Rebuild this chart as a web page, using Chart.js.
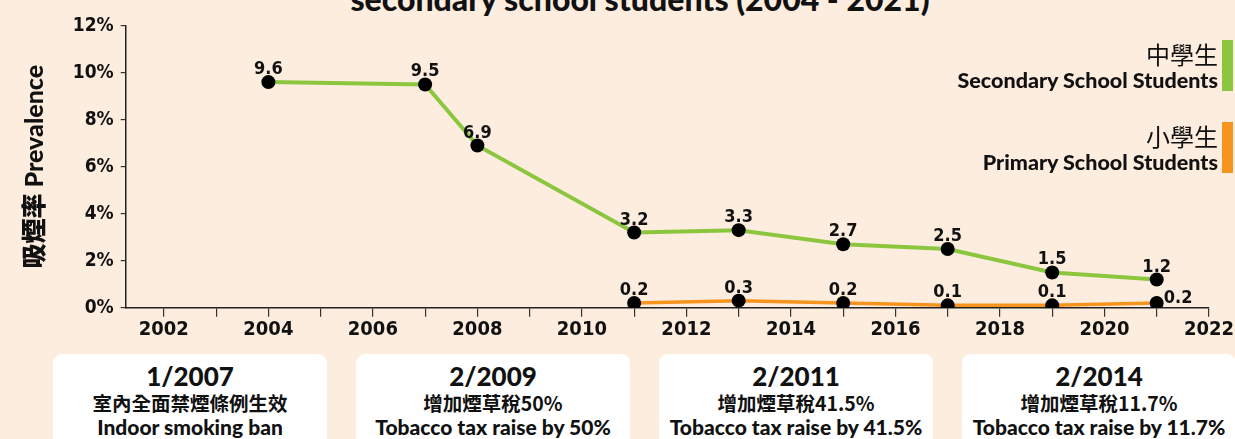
<!DOCTYPE html>
<html>
<head>
<meta charset="utf-8">
<script src="https://cdn.jsdelivr.net/npm/chart.js@4.4.1/dist/chart.umd.min.js"></script>
<style>
  html, body { margin: 0; padding: 0; }
  body { width: 1235px; height: 439px; overflow: hidden; position: relative; background: #fdeddf; font-family: Lato, "Noto Sans CJK TC", sans-serif; color: #111; }
  #wrap { position: absolute; left: 0; top: 0; width: 1235px; height: 340px; }
  #title { position: absolute; left: 0; top: -21px; width: 1280px; text-align: center; font-weight: 900; font-size: 32px; white-space: nowrap; }
  .leg { position: absolute; right: 17px; text-align: right; }
  .leg .zh { font-family: "Noto Sans CJK TC", sans-serif; font-size: 24px; font-weight: 400; line-height: 31px; }
  .leg .en { font-weight: 900; font-size: 21.5px; line-height: 22px; }
  .leg .bar { position: absolute; right: -15px; top: 2px; width: 11px; height: 51px; }
  .box { position: absolute; top: 354px; width: 274px; height: 100px; background: #fff; border-radius: 9px; text-align: center; }
  .box .d { font-weight: 900; font-size: 26px; line-height: 30px; margin-top: 7px; }
  .box .zh { font-family: "Noto Sans CJK TC", sans-serif; font-weight: 700; font-size: 19.5px; line-height: 24px; }
  .box .en { font-weight: 900; font-size: 21px; line-height: 24px; }
</style>
</head>
<body>
<div id="title">secondary school students (2004 - 2021)</div>
<div id="wrap"><canvas id="chart" width="1235" height="340"></canvas></div>
<div id="legend"></div>
<div id="boxes"></div>
<script>
const secYears = [2004, 2007, 2008, 2011, 2013, 2015, 2017, 2019, 2021];
const secValues = [9.6, 9.5, 6.9, 3.2, 3.3, 2.7, 2.5, 1.5, 1.2];
const priYears = [2011, 2013, 2015, 2017, 2019, 2021];
const priValues = [0.2, 0.3, 0.2, 0.1, 0.1, 0.2];
const xTickYears = [2002, 2003, 2004, 2005, 2006, 2007, 2008, 2009, 2010, 2011, 2012,
  2013, 2014, 2015, 2016, 2017, 2018, 2019, 2020, 2021, 2022];
const yTicks = [0, 2, 4, 6, 8, 10, 12];

const seriesZh = ["中學生", "小學生"];
const seriesEn = ["Secondary School Students", "Primary School Students"];
const seriesColors = ["#8cc63f", "#f7941d"];

const eventDates = ["1/2007", "2/2009", "2/2011", "2/2014"];
const eventZh = ["室內全面禁煙條例生效", "增加煙草稅50%", "增加煙草稅41.5%", "增加煙草稅11.7%"];
const eventEn = ["Indoor smoking ban", "Tobacco tax raise by 50%", "Tobacco tax raise by 41.5%", "Tobacco tax raise by 11.7%"];

const narrow = "'Liberation Sans Narrow', 'DejaVu Sans Condensed', Lato, sans-serif";

// legend (right side)
const legTops = [38, 120];
const legend = document.getElementById("legend");
seriesZh.forEach((zh, i) => {
  const d = document.createElement("div");
  d.className = "leg";
  d.style.top = legTops[i] + "px";
  d.innerHTML = `<div class="zh">${zh}</div><div class="en">${seriesEn[i]}</div>` +
    `<div class="bar" style="background:${seriesColors[i]}"></div>`;
  legend.appendChild(d);
});

// event boxes
const boxLefts = [53, 356, 659, 962];
const boxes = document.getElementById("boxes");
eventDates.forEach((dt, i) => {
  const b = document.createElement("div");
  b.className = "box";
  b.style.left = boxLefts[i] + "px";
  b.innerHTML = `<div class="d">${dt}</div><div class="zh">${eventZh[i]}</div><div class="en">${eventEn[i]}</div>`;
  boxes.appendChild(b);
});

const valueLabels = {
  id: "valueLabels",
  afterDatasetsDraw(chart) {
    const ctx = chart.ctx;
    ctx.save();
    ctx.font = "bold 18px " + narrow;
    ctx.fillStyle = "#111";
    chart.data.datasets.forEach((ds, i) => {
      chart.getDatasetMeta(i).data.forEach((pt, j) => {
        const txt = ds.data[j].y.toFixed(1);
        if (i === 1 && j === ds.data.length - 1) {
          ctx.textAlign = "left";
          ctx.fillText(txt, pt.x + 7, pt.y);
        } else {
          ctx.textAlign = "center";
          ctx.fillText(txt, pt.x, pt.y - 8);
        }
      });
    });
    ctx.restore();
  }
};

new Chart(document.getElementById("chart"), {
  type: "line",
  data: {
    datasets: [
      {
        label: seriesEn[0],
        data: secYears.map((x, i) => ({ x: x, y: secValues[i] })),
        borderColor: seriesColors[0],
        borderWidth: 4,
        pointRadius: 7,
        pointBackgroundColor: "#000",
        pointBorderWidth: 0,
        tension: 0
      },
      {
        label: seriesEn[1],
        data: priYears.map((x, i) => ({ x: x, y: priValues[i] })),
        borderColor: seriesColors[1],
        borderWidth: 3.5,
        pointRadius: 7,
        pointBackgroundColor: "#000",
        pointBorderWidth: 0,
        tension: 0
      }
    ]
  },
  options: {
    responsive: false,
    animation: false,
    maintainAspectRatio: false,
    layout: { padding: { left: 0, right: 23, top: 25.7, bottom: 0 } },
    plugins: { legend: { display: false }, tooltip: { enabled: false } },
    scales: {
      x: {
        type: "linear",
        min: 2001.27,
        max: 2022,
        afterBuildTicks: (s) => { s.ticks = xTickYears.map((v) => ({ value: v })); },
        afterFit: (s) => { s.height = 32.3; },
        grid: { drawOnChartArea: false, drawTicks: true, tickLength: 9, color: "#333", lineWidth: 1.2 },
        border: { color: "#222", width: 1.5 },
        ticks: {
          autoSkip: false,
          maxRotation: 0,
          padding: 1,
          color: "#111",
          font: { family: narrow, size: 20, weight: "bold" },
          callback: (v) => (v % 2 === 0 ? String(v) : "")
        }
      },
      y: {
        min: 0,
        max: 12,
        afterBuildTicks: (s) => { s.ticks = yTicks.map((v) => ({ value: v })); },
        afterFit: (s) => { s.width = 125.7; },
        grid: { drawOnChartArea: false, drawTicks: true, tickLength: 5, color: "#333", lineWidth: 1.2 },
        border: { color: "#222", width: 1.5 },
        title: {
          display: true,
          text: "吸煙率 Prevalence",
          color: "#111",
          font: { family: "Lato, 'Noto Sans CJK TC', sans-serif", size: 25, weight: "900" },
          padding: { top: 20, bottom: 0 }
        },
        ticks: {
          padding: 7,
          color: "#111",
          font: { family: narrow, size: 19, weight: "bold" },
          callback: (v) => v + "%"
        }
      }
    }
  },
  plugins: [valueLabels]
});
</script>
</body>
</html>
